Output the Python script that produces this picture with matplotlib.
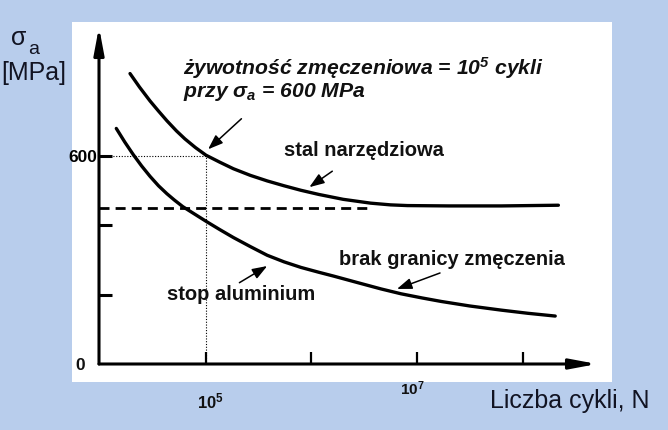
import matplotlib
matplotlib.use('Agg')
import matplotlib.pyplot as plt
import numpy as np
from matplotlib.patches import Rectangle
from matplotlib.ticker import NullLocator

# ---------------- data ----------------
steel_logN = [4.28, 4.37, 4.47, 4.55, 4.63, 4.72, 4.80, 4.90, 5.00, 5.13, 5.26, 5.42,
              5.58, 5.74, 5.90, 6.07, 6.30, 6.56, 6.75, 6.91, 7.30, 7.80, 8.34]
steel_S = [836, 797, 757, 728, 700, 671, 648, 623, 601, 581, 562, 543,
           527, 513, 500, 488, 474, 463, 458, 456, 455, 455, 457]

alu_logN = [4.15, 4.23, 4.31, 4.39, 4.47, 4.55, 4.63, 4.70, 4.78, 4.90, 5.01, 5.13,
            5.26, 5.42, 5.58, 5.74, 5.90, 6.07, 6.21, 6.44, 6.66, 6.85, 7.05, 7.23,
            7.50, 7.80, 8.05, 8.31]
alu_S = [678, 639, 603, 570, 540, 513, 490, 472, 453, 430, 409, 387,
         364, 338, 313, 294, 278, 264, 253, 234, 216, 202, 190, 180,
         167, 155, 146, 138]

fatigue_limit = 450          # dashed line (MPa)
ref_logN = 5.0               # 10^5 cycles
ref_S = 600                  # MPa
ytick_vals = [200, 400, 600]
ytick_labels = ['', '', '600']
xtick_exp = [5, 6, 7, 8]

# ---------------- style ----------------
plt.rcParams['font.family'] = ['Liberation Sans', 'DejaVu Sans']
plt.rcParams['mathtext.fontset'] = 'custom'
plt.rcParams['mathtext.rm'] = 'Liberation Sans:bold:italic'
plt.rcParams['mathtext.it'] = 'Liberation Sans:bold:italic'
plt.rcParams['mathtext.bf'] = 'Liberation Sans:bold'

BG = '#b8cdec'
OUT_TXT = '#111322'
W, H = 668, 430

fig = plt.figure(figsize=(W / 100, H / 100), dpi=100, facecolor=BG)
fig.patches.append(Rectangle((72 / W, 1 - 382 / H), 540 / W, 360 / H,
                             transform=fig.transFigure, facecolor='white',
                             edgecolor='none', zorder=-5))


def P(x, y):
    return x / W, 1 - y / H


ax = fig.add_axes([99 / W, 1 - 364 / H, 498 / W, 337 / H])
ax.set_zorder(2)
ax.set_facecolor('none')
ax.set_xscale('log')
xmin = 10 ** 3.986
ax.set_xlim(xmin, 10 ** 8.706)
ax.set_ylim(0, 970)
for s in ax.spines.values():
    s.set_visible(False)

# axes arrows
arrow_ax = dict(arrowstyle='-|>,head_length=1.6,head_width=0.3', mutation_scale=10,
                lw=2.2, color='black', shrinkA=0, shrinkB=0)
ax.annotate('', xy=(1, 0), xytext=(0, 0), xycoords='axes fraction',
            textcoords='axes fraction', arrowprops=arrow_ax, annotation_clip=False)
ax.annotate('', xy=(0, 1), xytext=(0, 0), xycoords='axes fraction',
            textcoords='axes fraction', arrowprops=arrow_ax, annotation_clip=False)

# ticks
ax.set_yticks(ytick_vals)
ax.set_yticklabels(ytick_labels, fontsize=12.5, fontweight='bold')
ax.tick_params(axis='y', direction='in', length=9, width=2.2, pad=1)
ax.set_xticks([10.0 ** e for e in xtick_exp])
ax.set_xticklabels([''] * len(xtick_exp))
ax.xaxis.set_minor_locator(NullLocator())
ax.tick_params(axis='x', direction='in', length=9, width=1.6)

# reference lines
ax.plot([xmin, 10 ** ref_logN], [ref_S, ref_S], color='black', lw=0.8, ls=(0, (1, 1.5)))
ax.plot([10 ** ref_logN, 10 ** ref_logN], [0, ref_S], color='black', lw=0.8, ls=(0, (1, 1.5)))
ax.plot([xmin, 10 ** 6.55], [fatigue_limit, fatigue_limit], color='black', lw=2,
        ls=(0, (3.6, 2.2)))

# curves
ax.plot(10 ** np.array(steel_logN), steel_S, color='black', lw=2.4,
        solid_capstyle='round', solid_joinstyle='round')
ax.plot(10 ** np.array(alu_logN), alu_S, color='black', lw=2.4,
        solid_capstyle='round', solid_joinstyle='round')

# annotation arrows
arr = dict(arrowstyle='-|>,head_length=0.9,head_width=0.33', mutation_scale=10,
           lw=1.1, color='black', shrinkA=0, shrinkB=0)
ax.annotate('', xy=(10 ** 5.02, 618), xytext=(24, 22), textcoords='offset points', arrowprops=arr)
ax.annotate('', xy=(10 ** 5.98, 509), xytext=(16.5, 11.5), textcoords='offset points', arrowprops=arr)
ax.annotate('', xy=(10 ** 5.58, 282), xytext=(-20, -12), textcoords='offset points', arrowprops=arr)
ax.annotate('', xy=(10 ** 6.81, 216), xytext=(31, 11.5), textcoords='offset points', arrowprops=arr)

# texts inside
fs = 14.5
fs_t = 15.2
fig.text(*P(183, 75), 'żywotność zmęczeniowa = $10^5$ cykli', fontsize=fs_t,
         fontweight='bold', fontstyle='italic', va='baseline', color='#111111')
fig.text(*P(183, 97), r'przy $\sigma_a$ = 600 MPa', fontsize=fs_t,
         fontweight='bold', fontstyle='italic', va='baseline', color='#111111')
fig.text(*P(284, 156), 'stal narzędziowa', fontsize=fs, fontweight='bold',
         va='baseline', color='#111111')
fig.text(*P(339, 265), 'brak granicy zmęczenia', fontsize=fs, fontweight='bold',
         va='baseline', color='#111111')
fig.text(*P(167, 300), 'stop aluminium', fontsize=fs, fontweight='bold',
         va='baseline', color='#111111')
fig.text(*P(80, 366), '0', fontsize=12.5, fontweight='bold', ha='center', va='center',
         color='#111111')

# axis labels / tick numbers outside
fig.text(*P(197, 408), r'$\mathbf{10^5}$', fontsize=12, va='baseline', color='#111111')
fig.text(*P(400, 395), r'$\mathbf{10^7}$', fontsize=11, va='baseline', color='#111111')
fig.text(*P(650, 408), 'Liczba cykli, N', fontsize=18, ha='right', va='baseline', color=OUT_TXT)
fig.text(*P(19, 45), 'σ', fontsize=18, ha='center', va='baseline', color=OUT_TXT)
fig.text(*P(28, 54), 'a', fontsize=14, ha='left', va='baseline', color=OUT_TXT)
fig.text(*P(66, 80), '[MPa]', fontsize=18, ha='right', va='baseline', color=OUT_TXT)

fig.savefig('out.png', dpi=100, facecolor=BG)
